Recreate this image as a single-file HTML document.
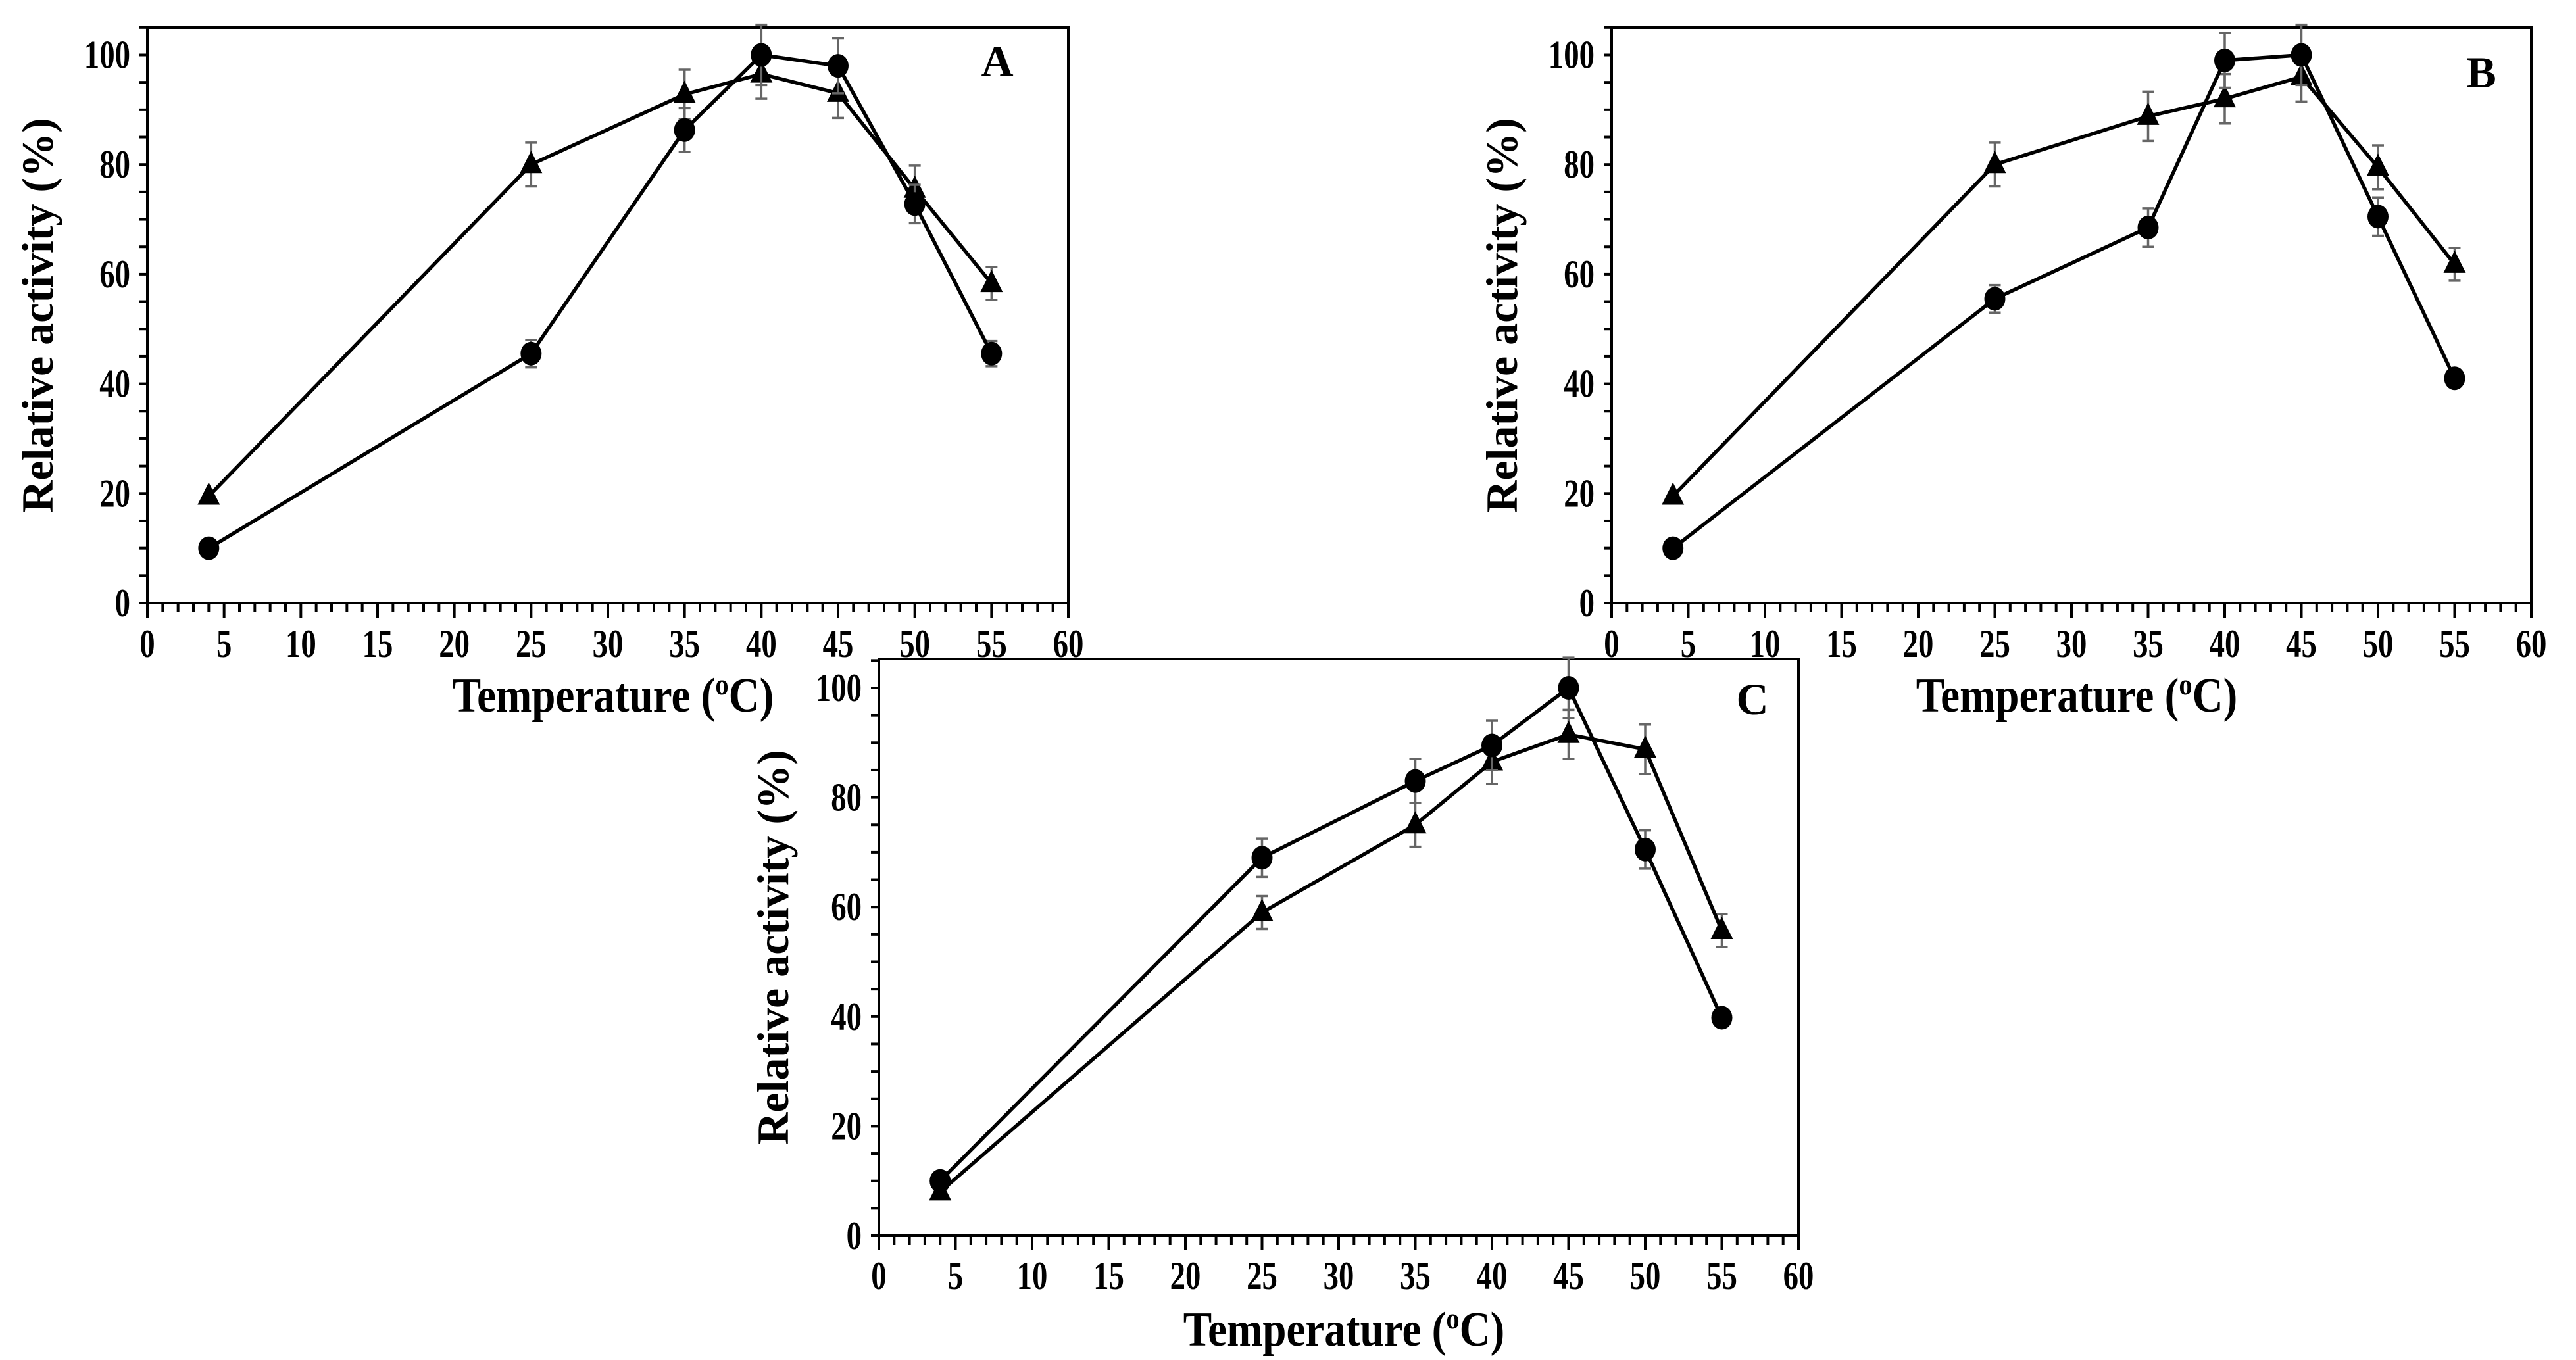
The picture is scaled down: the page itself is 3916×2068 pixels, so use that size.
<!DOCTYPE html>
<html><head><meta charset="utf-8"><style>
html,body{margin:0;padding:0;background:#fff}
svg{display:block}
text{font-family:"Liberation Serif",serif;font-weight:bold;fill:#000}
</style></head><body>
<svg id="fig" width="3916" height="2068" viewBox="0 0 3916 2068" xmlns="http://www.w3.org/2000/svg"></svg>
<script>
const temps=[4,25,35,40,45,50,55];
const xTicks=[0,5,10,15,20,25,30,35,40,45,50,55,60];
const yTicks=[0,20,40,60,80,100];
const aCircle=[10,45.5,86.3,100,98,72.8,45.5];
const aCircleErr=[0,2.5,4,5.5,5,3.5,2.3];
const aTri=[19.5,80,92.8,96.5,93,75.5,58.3];
const aTriErr=[0,4,4.5,4.5,4.5,4.3,3];
const bCircle=[10,55.5,68.5,99,100,70.5,41];
const bCircleErr=[0,2.5,3.5,5,5.5,3.5,1.5];
const bTri=[19.5,80,88.8,92,96,79.5,61.8];
const bTriErr=[0,4,4.5,4.5,4.5,4,3];
const cCircle=[10,69,83,89.5,100,70.5,39.8];
const cCircleErr=[0,3.5,4,4.5,5.5,3.5,1.5];
const cTri=[8,59,75,86.5,91.5,88.8,55.7];
const cTriErr=[0,3,4,4,4.5,4.5,3];

const NS="http://www.w3.org/2000/svg";
const svg=document.getElementById('fig');
function mk(tag,attrs,parent){const e=document.createElementNS(NS,tag);for(const k in attrs)e.setAttribute(k,attrs[k]);(parent||svg).appendChild(e);return e;}

function panel(id,x0,x1,y0,y100,top,letter,lx,ly,ytx,xtb,xtitleY,series){
  const g=mk('g',{});
  
  
  const X=v=>x0+(x1-x0)*v/60;
  const Y=v=>y0-(y0-y100)*v/100;
  const box=mk('rect',{x:x0,y:top,width:x1-x0,height:y0-top,fill:'none',stroke:'#000','stroke-width':4},g);
  
  
  for(let v=0;Y(v)>=top-1;v+=5){mk('line',{x1:x0-12,x2:x0,y1:Y(v),y2:Y(v),stroke:'#000','stroke-width':4},g);}
  for(let v=0;v<=60;v+=1){const L=v%5===0?22:14;mk('line',{x1:X(v),x2:X(v),y1:y0,y2:y0+L,stroke:'#000','stroke-width':4},g);}
  yTicks.forEach(v=>{const t=mk('text',{x:0,y:0,'text-anchor':'end','font-size':60,transform:`translate(${x0-26},${Y(v)+20}) scale(0.78,1)`},g);t.textContent=v;
    
    });
  xTicks.forEach(v=>{const t=mk('text',{x:0,y:0,'text-anchor':'middle','font-size':60,transform:`translate(${X(v)},${xtb+2}) scale(0.78,1)`},g);t.textContent=v;
    
    });
  const yt=mk('text',{x:0,y:0,'text-anchor':'middle','font-size':68,transform:`translate(${ytx},${(top+y0)/2}) rotate(-90)`},g);
  yt.textContent='Relative activity (%)';
  
  
  const xt=mk('text',{x:0,y:0,'text-anchor':'middle','font-size':74,transform:`translate(${(x0+x1)/2+8},${xtitleY}) scale(0.88,1)`},g);
  xt.innerHTML='Temperature (<tspan font-size="46" dy="-26">o</tspan><tspan dy="26">C)</tspan>';
  
  
  const pl=mk('text',{x:lx,y:ly,'text-anchor':'middle','font-size':68},g);pl.textContent=letter;
  
  
  series.forEach(s=>{
    const sg=mk('g',{},g);
    
    
    temps.forEach((t,i)=>{if(s.err[i]>0){const cx=X(t);const a=Y(s.vals[i]+s.err[i]),b=Y(s.vals[i]-s.err[i]);
      mk('line',{x1:cx,x2:cx,y1:a,y2:b,stroke:'#666','stroke-width':3.5},sg);
      mk('line',{x1:cx-9,x2:cx+9,y1:a,y2:a,stroke:'#666','stroke-width':3.5},sg);
      mk('line',{x1:cx-9,x2:cx+9,y1:b,y2:b,stroke:'#666','stroke-width':3.5},sg);}});
    const pts=temps.map((t,i)=>X(t)+','+Y(s.vals[i])).join(' ');
    const ln=mk('polyline',{points:pts,fill:'none',stroke:'#000','stroke-width':5.5,'stroke-linejoin':'round'},sg);
    
    
    temps.forEach((t,i)=>{const cx=X(t),cy=Y(s.vals[i]);let m;
      if(s.shape==='circle'){m=mk('ellipse',{cx:cx,cy:cy,rx:16,ry:18,fill:'#000'},sg);}
      else{m=mk('polygon',{points:`${cx},${cy-21} ${cx-17},${cy+13} ${cx+17},${cy+13}`,fill:'#000'},sg);}
      
      });
  });
}
panel('a',224,1624,917,83.5,42,'A',1516,116,80,997,1082,[
 {name:'series-triangle',vals:aTri,err:aTriErr,shape:'tri'},
 {name:'series-circle',vals:aCircle,err:aCircleErr,shape:'circle'}]);
panel('b',2450,3848,917,83.5,42,'B',3772,133,2306,997,1082,[
 {name:'series-triangle',vals:bTri,err:bTriErr,shape:'tri'},
 {name:'series-circle',vals:bCircle,err:bCircleErr,shape:'circle'}]);
panel('c',1336,2734,1879,1046,1002,'C',2664,1086,1198,1958,2046,[
 {name:'series-triangle',vals:cTri,err:cTriErr,shape:'tri'},
 {name:'series-circle',vals:cCircle,err:cCircleErr,shape:'circle'}]);
</script>
</body></html>
